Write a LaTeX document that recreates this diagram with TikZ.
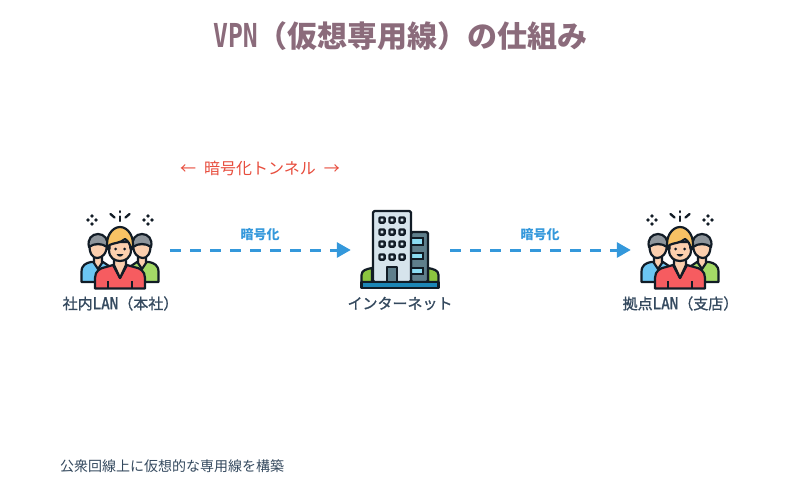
\documentclass[tikz,border=0pt]{standalone}
\usepackage{fontspec}
\usetikzlibrary{arrows.meta}
\setmainfont{Noto Sans CJK JP}
\newfontfamily\medf[FakeBold=1.2]{Noto Sans CJK JP}
\newfontfamily\lat[Scale=1.1,FakeStretch=0.86,FakeBold=1.2]{DejaVu Sans Mono}
\newfontfamily\latb[Scale=1.1,FakeStretch=0.75]{DejaVu Sans Mono Bold}
\definecolor{ol}{HTML}{121C26}
\definecolor{skin}{HTML}{FBCFAE}
\definecolor{slate}{HTML}{34495E}
\definecolor{azure}{HTML}{3498DB}
\definecolor{redt}{HTML}{E74C3C}
\definecolor{mauve}{HTML}{8B6B7B}
\definecolor{shirtb}{HTML}{6CC6F2}
\definecolor{shirtg}{HTML}{A4DA66}
\definecolor{shirtr}{HTML}{F65C60}
\definecolor{hairo}{HTML}{F8C264}
\definecolor{hairg}{HTML}{8E959B}
\definecolor{towerf}{HTML}{D6E4EC}
\definecolor{wingf}{HTML}{5F7F8C}
\definecolor{glass}{HTML}{8CDCF2}
\definecolor{bush}{HTML}{8CC63F}
\definecolor{basef}{HTML}{1C86B6}
\tikzset{
  x=1pt,y=-1pt,
  lbl/.style={text=slate,font=\fontsize{15}{15}\selectfont\medf,inner sep=0pt},
  enc/.style={text=azure,font=\fontsize{13}{13}\selectfont\bfseries,inner sep=0pt},
  icon/.style={minimum width=80pt,minimum height=80pt,inner sep=0pt},
  tunnelarrow/.style={draw=azure,line width=3pt,dash pattern=on 11pt off 9pt,-{Triangle[length=14pt,width=15pt]},shorten <=10pt,shorten >=9pt},
  o/.style={draw=ol,line width=2.2pt,line join=round,line cap=round},
  win/.style={draw=ol,line width=2.3pt,fill=towerf,rounded corners=1pt},
  pics/crowd/.style={code={
    \foreach \sx in {-28,28}{
      \foreach \a/\b in {0/-4,0/4,-4/0,4/0}
        \fill[ol] (\sx+\a,-30+\b-1.9) -- (\sx+\a+1.9,-30+\b) -- (\sx+\a,-30+\b+1.9) -- (\sx+\a-1.9,-30+\b) -- cycle;
    }
    \draw[ol,line width=2.3pt,line cap=round] (0,-38.8) -- (0,-37.8) (0,-33.5) -- (0,-29);
    \draw[ol,line width=2.3pt,line cap=round] (-9.5,-36) -- (-5.5,-32.5) (9.5,-36) -- (5.5,-32.5);
    % left person
    \draw[o,fill=shirtb] (-38.5,32) -- (-38.5,22) .. controls (-38.5,15) and (-34,13) .. (-29,12) -- (-17,12) -- (-8,18) -- (-8,32) -- cycle;
    \draw[o,fill=skin] (-26,6) -- (-26,13) -- (-22,19) -- (-18,13) -- (-18,6) -- cycle;
    \draw[o,fill=skin] (-30.5,-6) .. controls (-31,4) and (-27,8) .. (-23,8) .. controls (-18,8) and (-13,4) .. (-13,-6) -- cycle;
    \draw[o,fill=hairg] (-31,-3) .. controls (-33,-11) and (-28,-16) .. (-22,-16) .. controls (-16,-16) and (-11,-11) .. (-13,-3) .. controls (-18,-7) and (-26,-7) .. (-31,-3) -- cycle;
    % right person
    \draw[o,fill=shirtg] (38.5,32) -- (38.5,22) .. controls (38.5,15) and (34,13) .. (29,12) -- (17,12) -- (8,18) -- (8,32) -- cycle;
    \draw[o,fill=skin] (26,6) -- (26,13) -- (22,19) -- (18,13) -- (18,6) -- cycle;
    \draw[o,fill=skin] (30.5,-6) .. controls (31,4) and (27,8) .. (23,8) .. controls (18,8) and (13,4) .. (13,-6) -- cycle;
    \draw[o,fill=hairg] (31,-3) .. controls (33,-11) and (28,-16) .. (22,-16) .. controls (16,-16) and (11,-11) .. (13,-3) .. controls (18,-7) and (26,-7) .. (31,-3) -- cycle;
    % centre person
    \draw[o,fill=shirtr] (-25,38.5) -- (-25,28) .. controls (-25,21) and (-20,18) .. (-14,17) -- (-7,15) -- (0,28) -- (7,15) -- (14,17) .. controls (20,18) and (25,21) .. (25,28) -- (25,38.5) -- cycle;
    \draw[o,fill=skin] (-6,8) -- (-6,15) -- (0,28) -- (6,15) -- (6,8) -- cycle;
    \draw[o,fill=skin] (-11,-8) -- (-11,0) .. controls (-11,8) and (-5,11) .. (0,11) .. controls (5,11) and (11,8) .. (11,0) -- (11,-8) -- cycle;
    \draw[o,fill=hairo] (-12.5,-1) .. controls (-15,-13) and (-8,-23) .. (0,-23) .. controls (8,-23) and (15,-13) .. (12.5,-1) -- (10.5,-1) .. controls (10.5,-6) and (8,-9) .. (5,-11) .. controls (1,-7) and (-7,-7) .. (-10.5,-5) -- (-10.5,-1) -- cycle;
    \fill[ol] (-4.5,-1) circle (1.5pt) (4.5,-1) circle (1.5pt);
    \fill[ol] (-3.5,4) .. controls (-2,7.5) and (2,7.5) .. (3.5,4) -- cycle;
    \draw[ol,line width=2pt] (-12,38) -- (-12,31) (12,38) -- (12,31);
  }},
  pics/tower/.style={code={
    \draw[o,fill=bush] (-38.5,32) -- (-38.5,25) .. controls (-38.5,20) and (-33,19) .. (-28,18) -- (-28,32) -- cycle;
    \draw[o,fill=bush] (38.5,32) -- (38.5,25) .. controls (38.5,20) and (33,19) .. (28,18) -- (28,32) -- cycle;
    \draw[o,fill=wingf,rounded corners=1.5pt] (11,-18) -- (28,-18) -- (28,32) -- (11,32) -- cycle;
    \foreach \y/\h in {-12/7,3/6,18/6}
      \draw[ol,line width=1.6pt,fill=glass] (11,\y) rectangle (23,\y+\h);
    \draw[o,fill=towerf,rounded corners=1.5pt] (-27,-39) -- (11,-39) -- (11,32) -- (-27,32) -- cycle;
    \foreach \y in {-30,-18,-6,7}
      \foreach \x in {-18,-8,2}
        \draw[win] (\x-2.6,\y-2.6) rectangle (\x+2.6,\y+2.6);
    \draw[o,fill=wingf] (-13,31) -- (-13,17) -- (-3,17) -- (-3,31);
    \draw[o,fill=basef] (-38.5,32) rectangle (38.5,38);
  }}
}
\begin{document}
\begin{tikzpicture}
\useasboundingbox (0,0) rectangle (800,500);
\node[text=mauve,inner sep=0pt,font=\fontsize{30}{30}\selectfont\bfseries] (title) at (400.5,36) {{\latb VPN}（仮想専用線）の仕組み};
\node[text=redt,inner sep=0pt,font=\fontsize{16}{16}\selectfont] (tunnel) at (260,168) {←\hspace{8pt}暗号化トンネル\hspace{8pt}→};
\node[icon] (hq) at (120,250) {};
\node[icon] (net) at (400,250) {};
\node[icon] (branch) at (680,250) {};
\pic at (hq.center) {crowd};
\pic at (net.center) {tower};
\pic at (branch.center) {crowd};
\node[lbl] (hql) at (120.5,303.5) {社内{\lat LAN}（本社）};
\node[lbl] (netl) at (400,303.5) {インターネット};
\node[lbl] (brl) at (680.5,303.5) {拠点{\lat LAN}（支店）};
\draw[tunnelarrow] (hq) -- (net);
\draw[tunnelarrow] (net) -- (branch);
\node[enc] (e1) at (260,234.5) {暗号化};
\node[enc] (e2) at (540,234.5) {暗号化};
\node[text=slate,anchor=west,inner sep=0pt,font=\fontsize{14}{14}\selectfont] (note) at (60,466.5) {公衆回線上に仮想的な専用線を構築};
\end{tikzpicture}
\end{document}
